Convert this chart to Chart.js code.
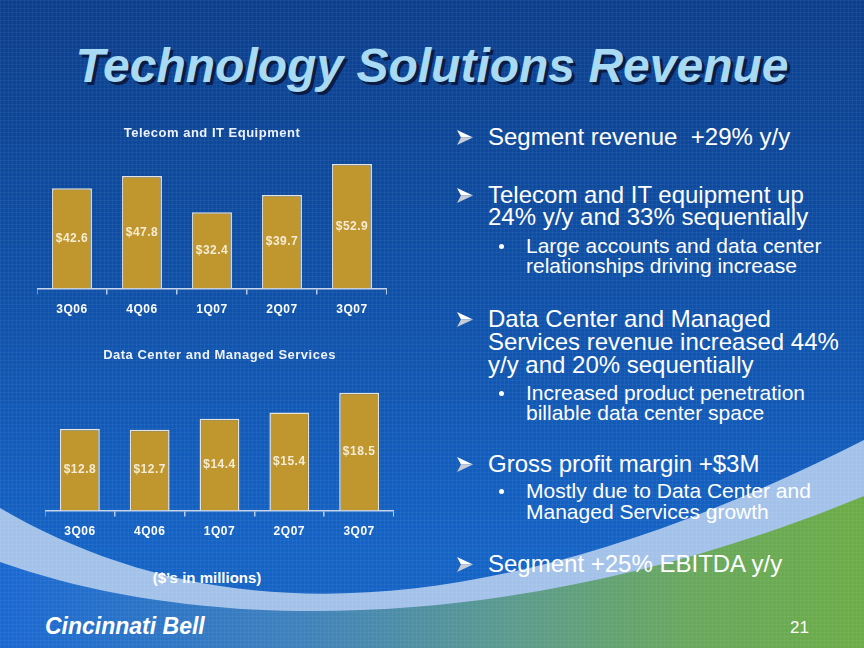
<!DOCTYPE html>
<html>
<head>
<meta charset="utf-8">
<title>Technology Solutions Revenue</title>
<script src="https://cdn.jsdelivr.net/npm/chart.js@4.4.1/dist/chart.umd.min.js"></script>
<style>
  html, body { margin: 0; padding: 0; overflow: hidden; }
  body { width: 864px; height: 648px; font-family: "Liberation Sans", Arial, sans-serif; }
  #slide { position: relative; width: 864px; height: 648px; overflow: hidden; }
  #bg, #grid { position: absolute; left: 0; top: 0; }
  #grid {
    width: 864px; height: 648px;
    background-image: linear-gradient(rgba(255,255,255,0.045) 1px, transparent 1px),
                      linear-gradient(90deg, rgba(255,255,255,0.045) 1px, transparent 1px);
    background-size: 4px 4px;
  }
  .abs { position: absolute; white-space: nowrap; }
  #title {
    left: 0; width: 864px; top: 42px; text-align: center;
    font: italic bold 48px/48px "Liberation Sans", Arial, sans-serif;
    color: #a8daf4; text-shadow: 3px 3px 0 #0a1c44;
  }
  .main { left: 488px; font-size: 24px; line-height: 24px; color: #ffffff; }
  .sub { left: 526px; font-size: 21px; line-height: 21px; color: #ffffff; }
  .arrow { left: 457px; width: 16px; height: 15px; }
  .dot { left: 499px; width: 5px; height: 5px; border-radius: 50%; background: #ffffff; }
  canvas { position: absolute; }
  #units { left: 147px; width: 120px; top: 570px; text-align: center; font: bold 15px/15px "Liberation Sans", Arial, sans-serif; color: #ffffff; }
  #logo { left: 45px; top: 615px; font: italic bold 23px/23px "Liberation Sans", Arial, sans-serif; color: #ffffff; }
  #page { left: 790px; top: 619px; font: 17px/17px "Liberation Sans Narrow", "Liberation Sans", Arial, sans-serif; color: #ffffff; }
</style>
</head>
<body>
<div id="slide">
  <svg id="bg" width="864" height="648">
    <defs>
      <linearGradient id="sky" x1="0" y1="0" x2="0" y2="1">
        <stop offset="0" stop-color="#0c3f8c"/>
        <stop offset="0.45" stop-color="#0f51a9"/>
        <stop offset="0.85" stop-color="#1463c6"/>
      </linearGradient>
      <linearGradient id="ground" x1="0" y1="0" x2="1" y2="0">
        <stop offset="0" stop-color="#1868d2"/>
        <stop offset="0.35" stop-color="#3f82bc"/>
        <stop offset="0.6" stop-color="#5c9c8c"/>
        <stop offset="0.8" stop-color="#68a85c"/>
        <stop offset="1" stop-color="#6cac46"/>
      </linearGradient>
      <symbol id="arrowhead" viewBox="0 0 16 15">
        <polygon points="0,0 16,7.5 4,7.5" fill="#ffffff"/>
        <polygon points="0,15 16,7.5 4,7.5" fill="#c8ccd4"/>
      </symbol>
    </defs>
    <rect width="864" height="648" fill="url(#sky)"/>
    <path d="M0,508 C200,625 470,640 864,440 L864,648 L0,648 Z" fill="#a3c2ea"/>
    <path d="M0,562 C220,640 540,630 864,496 L864,648 L0,648 Z" fill="url(#ground)"/>
  </svg>
  <div id="grid"></div>

  <div id="title" class="abs">Technology Solutions Revenue</div>

  <canvas id="telecomChart" width="350" height="205" style="left:37px; top:120px;"></canvas>
  <canvas id="dataCenterChart" width="349" height="205" style="left:45px; top:342px;"></canvas>
  <div id="units" class="abs">($’s in millions)</div>

  <!-- right hand bullets -->
  <svg class="abs arrow" style="top:130px"><use href="#arrowhead"/></svg>
  <div class="abs main" style="top:124.7px">Segment revenue&nbsp; +29% y/y</div>

  <svg class="abs arrow" style="top:188px"><use href="#arrowhead"/></svg>
  <div class="abs main" style="top:182.7px">Telecom and IT equipment up</div>
  <div class="abs main" style="top:204.7px">24% y/y and 33% sequentially</div>
  <div class="abs dot" style="top:244px"></div>
  <div class="abs sub" style="top:235.2px">Large accounts and data center</div>
  <div class="abs sub" style="top:255.2px">relationships driving increase</div>

  <svg class="abs arrow" style="top:312px"><use href="#arrowhead"/></svg>
  <div class="abs main" style="top:306.7px">Data Center and Managed</div>
  <div class="abs main" style="top:329.7px">Services revenue increased 44%</div>
  <div class="abs main" style="top:352.7px">y/y and 20% sequentially</div>
  <div class="abs dot" style="top:391px"></div>
  <div class="abs sub" style="top:382.2px">Increased product penetration</div>
  <div class="abs sub" style="top:402.2px">billable data center space</div>

  <svg class="abs arrow" style="top:457px"><use href="#arrowhead"/></svg>
  <div class="abs main" style="top:451.7px">Gross profit margin +$3M</div>
  <div class="abs dot" style="top:489px"></div>
  <div class="abs sub" style="top:480.2px">Mostly due to Data Center and</div>
  <div class="abs sub" style="top:501.2px">Managed Services growth</div>

  <svg class="abs arrow" style="top:557px"><use href="#arrowhead"/></svg>
  <div class="abs main" style="top:551.7px">Segment +25% EBITDA y/y</div>

  <div id="logo" class="abs">Cincinnati Bell</div>
  <div id="page" class="abs">21</div>
</div>

<script>
// Chart data
const quarters = ['3Q06', '4Q06', '1Q07', '2Q07', '3Q07'];
const telecomValues = [42.6, 47.8, 32.4, 39.7, 52.9];
const dataCenterValues = [12.8, 12.7, 14.4, 15.4, 18.5];

Chart.defaults.font.family = '"Liberation Sans", Arial, sans-serif';

// Slightly spaced lettering, like the original slide's chart text
const spacedText = {
    id: 'spacedText',
    beforeDraw(chart) { chart.ctx.letterSpacing = '0.5px'; },
    afterDraw(chart) { chart.ctx.letterSpacing = '0px'; }
};

// Draw the "$xx.x" label in the middle of each bar
const barValueLabels = {
    id: 'barValueLabels',
    afterDatasetsDraw(chart) {
        const ctx = chart.ctx;
        const meta = chart.getDatasetMeta(0);
        const values = chart.data.datasets[0].data;
        ctx.save();
        ctx.font = 'bold 12px "Liberation Sans", Arial, sans-serif';
        ctx.fillStyle = '#f4ecd4';
        ctx.textAlign = 'center';
        ctx.textBaseline = 'middle';
        meta.data.forEach((bar, i) => {
            ctx.fillText('$' + values[i].toFixed(1), bar.x, (bar.y + bar.base) / 2);
        });
        ctx.restore();
    }
};

function makeBarChart(canvasId, title, values, yMax, titleGap) {
    const ctx = document.getElementById(canvasId).getContext('2d');
    return new Chart(ctx, {
        type: 'bar',
        data: {
            labels: quarters,
            datasets: [{
                data: values,
                backgroundColor: '#c0962f',
                borderColor: '#e6e4dc',
                borderWidth: 1.5,
                borderSkipped: 'bottom',
                categoryPercentage: 1,
                barPercentage: 0.57
            }]
        },
        options: {
            responsive: false,
            devicePixelRatio: 1,
            animation: false,
            layout: { padding: 0 },
            plugins: {
                legend: { display: false },
                tooltip: { enabled: false },
                title: {
                    display: true,
                    text: title,
                    color: '#eef2fa',
                    font: { size: 13, weight: 'bold' },
                    padding: { top: 6, bottom: titleGap }
                }
            },
            scales: {
                x: {
                    grid: {
                        offset: true,
                        drawOnChartArea: false,
                        drawTicks: true,
                        tickLength: 6,
                        color: '#b8cbe8',
                        lineWidth: 1.5
                    },
                    border: { display: true, color: '#c8d6ee', width: 1.5 },
                    ticks: { color: '#ffffff', font: { size: 12, weight: 'bold' }, padding: 8 }
                },
                y: { display: false, min: 0, max: yMax }
            }
        },
        plugins: [spacedText, barValueLabels]
    });
}

makeBarChart('telecomChart', 'Telecom and IT Equipment', telecomValues, 60, 5.7);
makeBarChart('dataCenterChart', 'Data Center and Managed Services', dataCenterValues, 20, 19.6);
</script>
</body>
</html>
